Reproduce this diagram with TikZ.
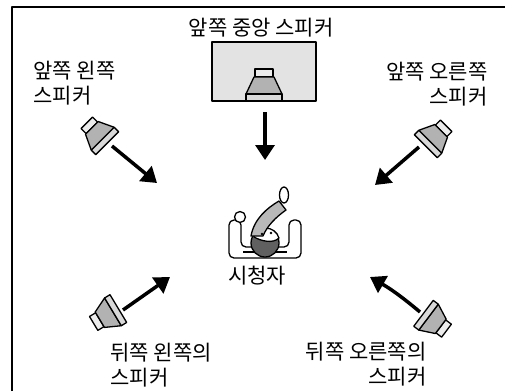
\documentclass[tikz,border=0pt]{standalone}
\usepackage{fontspec}
\setmainfont{Noto Sans CJK KR}
\usetikzlibrary{arrows.meta}

\tikzset{
  speaker/.pic={
    \draw[fill=gray!15] (-9,-16) rectangle (9,-8);
    \draw[fill=gray!60] (-10,-8) .. controls (-14,0) .. (-18,9) -- (18,9) .. controls (14,0) .. (10,-8) -- cycle;
    \draw[fill=gray!30] (-18,9) rectangle (18,16);
  }
}

\begin{document}
\begin{tikzpicture}[x=1pt,y=-1pt,line width=1.3pt,line join=round,
  lbl/.style={font=\fontsize{21}{25}\selectfont,inner sep=0pt},
  beam/.style={line width=3.5pt,-{Triangle[length=15pt,width=19pt]}}]
\useasboundingbox (0,0) rectangle (505,391);
\draw[line width=1.6pt] (12,391) |- (505,7);
\node[lbl] (fc-lbl) at (261,28) {앞쪽 중앙 스피커};
\node[lbl,align=left,anchor=west] (fl-lbl) at (33,83) {앞쪽 왼쪽\\스피커};
\node[lbl,align=right,anchor=east] (fr-lbl) at (488,84) {앞쪽 오른쪽\\스피커};
\node[lbl] (lis-lbl) at (257,276) {시청자};
\node[lbl,align=left,anchor=west] (rl-lbl) at (110,365) {뒤쪽 왼쪽의\\스피커};
\node[lbl,align=right,anchor=east] (rr-lbl) at (427,364) {뒤쪽 오른쪽의\\스피커};
\node[draw,line width=1.6pt,fill=gray!22,minimum width=104pt,minimum height=59pt,inner sep=0pt] (fc-box) at (264,71.5) {};
\pic at (264,85) {speaker};
\pic[rotate=45,scale=0.9] at (97,133) {speaker};
\pic[rotate=-45,scale=0.9] at (436,136) {speaker};
\pic[rotate=121,scale=0.9] at (106,316) {speaker};
\pic[rotate=-127,scale=0.9] at (435,322) {speaker};
\coordinate (fc-out) at (265,112);
\coordinate (fc-in) at (265,160);
\coordinate (fl-out) at (112,146);
\coordinate (fl-in) at (157,183);
\coordinate (fr-out) at (419,147);
\coordinate (fr-in) at (375,185);
\coordinate (rl-out) at (123,310);
\coordinate (rl-in) at (170,277);
\coordinate (rr-out) at (420,312);
\coordinate (rr-in) at (370,277);
\draw[beam] (fc-out) -- (fc-in);
\draw[beam] (fl-out) -- (fl-in);
\draw[beam] (fr-out) -- (fr-in);
\draw[beam] (rl-out) -- (rl-in);
\draw[beam] (rr-out) to[bend right=5] (rr-in);
\draw[fill=white,rounded corners=5pt] (229,220) -- (229,258) -- (301,258) -- (301,220) -- (289,220) -- (289,247) -- (241,247) -- (241,220) -- cycle;
\draw (243,252) -- (287,252);
\draw[fill=white] (240,217) circle (5.5);
\draw[fill=gray!75!black] (265,243) circle (14);
\draw[fill=white] (254,237) .. controls (257,225) and (275,225) .. (279,238) .. controls (273,244) and (261,241) .. cycle;
\draw[fill=gray!55] (251,236) .. controls (254,219) and (267,208) .. (279,201) -- (286,210) .. controls (276,217) and (267,226) .. (263,236) -- cycle;
\draw[fill=white] (284,195) ellipse (4.5 and 8);
\fill (262,234) circle (1.3) (271,233) circle (1.3);
\end{tikzpicture}
\end{document}
